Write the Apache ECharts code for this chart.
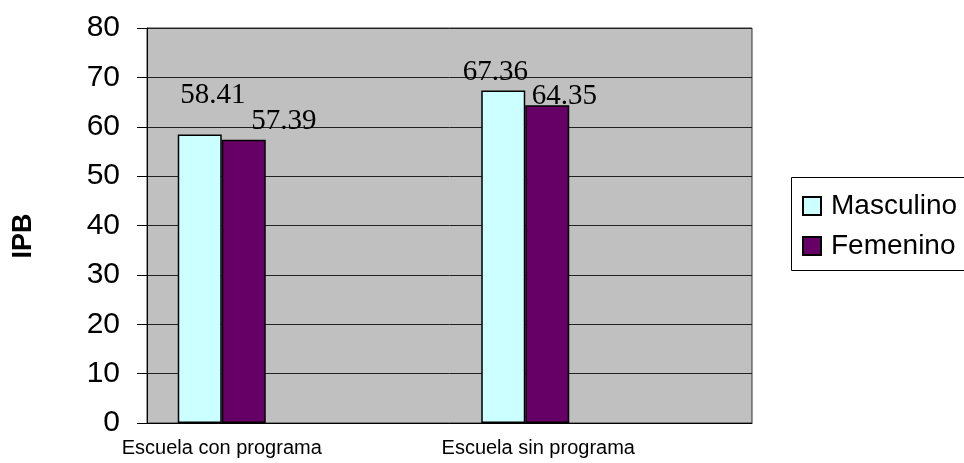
<!DOCTYPE html>
<html>
<head>
<meta charset="utf-8">
<script src="https://cdn.jsdelivr.net/npm/echarts@6/dist/echarts.min.js"></script>
<style>
  html, body { margin: 0; padding: 0; background: #fff; overflow: hidden; }
  #chart { width: 964px; height: 463px; }
</style>
</head>
<body>
<div id="chart"></div>
<script>
// Índice de peso corporal (IPB) por tipo de escuela y sexo
const categories = ['Escuela con programa', 'Escuela sin programa'];
const masculino = [58.41, 67.36];
const femenino = [57.39, 64.35];
const seriesNames = ['Masculino', 'Femenino'];
const yMin = 0, yMax = 80, yStep = 10;

// label nudges [dx, dy] relative to the top centre of each bar
const labelShiftM = [[13, -25], [-8, -4]];
const labelShiftF = [[40, -4], [17, 6]];

const chart = echarts.init(document.getElementById('chart'));

function barData(values, shifts) {
  return values.map((v, i) => ({
    value: v,
    label: { offset: shifts[i] }
  }));
}

const dataLabel = {
  show: true,
  position: 'top',
  distance: 0,
  fontFamily: 'Liberation Serif',
  fontSize: 29,
  color: '#000'
};

const frame = { stroke: '#000', lineWidth: 1 };

chart.setOption({
  animation: false,
  backgroundColor: '#fff',
  grid: [
    { left: 147, right: 212, top: 28, bottom: 40, show: true,
      backgroundColor: '#c0c0c0', borderColor: '#333', borderWidth: 1 },
    { left: 70, right: 287, top: 28, bottom: 40 }
  ],
  xAxis: [
    { gridIndex: 0, type: 'value', min: 0, max: 1,
      axisLine: { show: true, onZero: false, lineStyle: { color: '#000', width: 1 } },
      axisTick: { show: false }, axisLabel: { show: false }, splitLine: { show: false } },
    { gridIndex: 1, type: 'category', data: categories,
      axisLine: { show: false }, axisTick: { show: false }, splitLine: { show: false },
      axisLabel: {
        interval: 0,
        margin: 15,
        fontFamily: 'Liberation Sans', fontSize: 20, color: '#000',
        formatter: (v, i) => i === 1 ? '{s|' + v + '}' : v,
        rich: { s: { fontFamily: 'Liberation Sans', fontSize: 20, color: '#000', padding: [0, 0, 0, 26] } }
      } }
  ],
  yAxis: [
    { gridIndex: 0, type: 'value', min: yMin, max: yMax, interval: yStep,
      axisLine: { show: true, lineStyle: { color: '#000', width: 1 } },
      axisTick: { show: true, length: 10, lineStyle: { color: '#000' } },
      axisLabel: { margin: 27, fontFamily: 'Liberation Sans', fontSize: 30, color: '#000' },
      splitLine: { show: true, lineStyle: { color: '#222', width: 1 } } },
    { gridIndex: 1, type: 'value', min: yMin, max: yMax, interval: yStep, show: false }
  ],
  legend: {
    orient: 'vertical',
    left: 791, top: 177,
    padding: [15, 0, 12, 11],
    itemGap: 12,
    itemWidth: 18, itemHeight: 18,
    icon: 'rect',
    borderWidth: 0,
    backgroundColor: 'transparent',
    textStyle: { fontFamily: 'Liberation Sans', fontSize: 28, color: '#000', padding: [0, 0, 0, 5] },
    data: seriesNames
  },
  series: [
    { name: seriesNames[0], type: 'bar', xAxisIndex: 1, yAxisIndex: 1,
      barWidth: 44, barGap: '0%',
      itemStyle: { color: '#ccffff', borderColor: '#000', borderWidth: 1.5 },
      label: dataLabel,
      data: barData(masculino, labelShiftM) },
    { name: seriesNames[1], type: 'bar', xAxisIndex: 1, yAxisIndex: 1,
      barWidth: 44, barGap: '0%',
      itemStyle: { color: '#660066', borderColor: '#000', borderWidth: 1.5 },
      label: dataLabel,
      data: barData(femenino, labelShiftF) }
  ],
  graphic: [
    // legend frame: top, left and bottom edges only; it runs off the canvas on the right
    { type: 'line', z: 10, shape: { x1: 791.5, y1: 177.5, x2: 1000, y2: 177.5 }, style: frame },
    { type: 'line', z: 10, shape: { x1: 791.5, y1: 177.5, x2: 791.5, y2: 270.5 }, style: frame },
    { type: 'line', z: 10, shape: { x1: 791.5, y1: 270.5, x2: 1000, y2: 270.5 }, style: frame },
    { type: 'text', x: 24, y: 236, rotation: Math.PI / 2,
      style: { text: 'IPB', fontFamily: 'Liberation Sans', fontWeight: 'bold', fontSize: 27,
               fill: '#000', align: 'center', verticalAlign: 'middle' } }
  ]
});
</script>
</body>
</html>
